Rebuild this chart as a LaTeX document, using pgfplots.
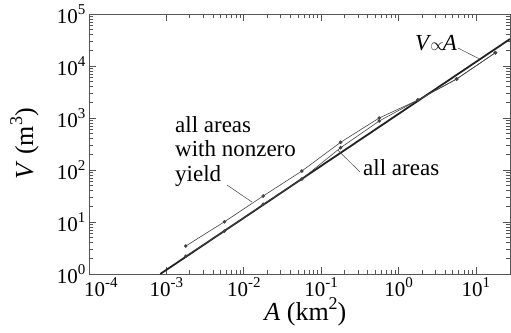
\documentclass[border=0pt]{standalone}
\usepackage{fontspec}
\setmainfont{Liberation Serif}
\usepackage{pgfplots}
\pgfplotsset{compat=1.18}
\definecolor{axisgray}{HTML}{555555}
\definecolor{linegray}{HTML}{444444}
\definecolor{thickline}{HTML}{222222}
\newcommand\sups[1]{\raisebox{0.42em}{\fontsize{15}{15}\selectfont #1}}
\newcommand\lsups[1]{\raisebox{0.42em}{\fontsize{18}{18}\selectfont #1}}
\begin{document}
\begin{tikzpicture}
\begin{axis}[
  name=ax,
  scale only axis,
  width=421pt, height=260pt,
  xmode=log, ymode=log,
  xmin=1e-4, xmax=27.5, ymin=1, ymax=1e5,
  xtick={1e-3,1e-2,1e-1,1,10},
  xticklabels={10\sups{-3},10\sups{-2},10\sups{-1},10\sups{0},10\sups{1}},
  extra x ticks={1e-4},
  extra x tick labels={10\sups{-4}},
  extra x tick style={xticklabel style={xshift=12pt}},
  ytick={1,10,100,1000,10000,100000},
  yticklabels={10\sups{0},10\sups{1},10\sups{2},10\sups{3},10\sups{4},10\sups{5}},
  tick label style={font=\fontsize{21}{24}\selectfont, text=black},
  axis line style={axisgray, line width=0.9pt},
  tick style={axisgray, line width=0.7pt},
  major tick length=7pt, minor tick length=4pt,
  clip mode=individual,
  xlabel={\textit{A} (km\lsups{2})},
  ylabel={\textit{V} (m\lsups{3})},
  xlabel style={font=\fontsize{26}{30}\selectfont, at={(axis description cs:0.514,-0.177)}, anchor=base, inner sep=0pt},
  ylabel style={font=\fontsize{26}{30}\selectfont, at={(axis description cs:-0.133,0.5)}, anchor=base, inner sep=0pt},
]
% V proportional to A
\addplot[thickline, line width=1.8pt, no marks] coordinates {(8.33e-4,1) (27.5,33000)};
% all areas
\addplot[linegray, line width=0.6pt, mark=*, mark size=1.5pt] coordinates {
(1.78e-3,2.2) (5.62e-3,6.7) (0.0178,21.9) (0.0562,67) (0.178,268) (0.562,875) (1.78,2220) (5.62,5620) (17.8,18000)};
% all areas with nonzero yield
\addplot[linegray, line width=0.6pt, mark=*, mark size=1.5pt] coordinates {
(1.78e-3,3.45) (5.62e-3,10.1) (0.0178,31.6) (0.0562,95.5) (0.178,341) (0.562,1000) (1.78,2220) (5.62,5620) (17.8,18000)};
% annotations
\node[anchor=base west, font=\fontsize{23}{26}\selectfont, inner sep=0pt] at (axis cs:1.29e-3,538) {all areas};
\node[anchor=base west, font=\fontsize{23}{26}\selectfont, inner sep=0pt] at (axis cs:1.29e-3,178) {with nonzero};
\node[anchor=base west, font=\fontsize{23}{26}\selectfont, inner sep=0pt] at (axis cs:1.29e-3,58.9) {yield};
\draw[linegray, line width=0.5pt] (axis cs:6.07e-3,51.5) -- (axis cs:0.01276,24.2);
\node[anchor=base west, font=\fontsize{23}{26}\selectfont, inner sep=0pt] at (axis cs:0.347,80) {all areas};
\draw[linegray, line width=0.5pt] (axis cs:0.317,91.4) -- (axis cs:0.165,240);
\node[anchor=base west, font=\fontsize{23}{26}\selectfont, inner sep=0pt] at (axis cs:1.63,20300) {\textit{V}\kern-1pt{\fontsize{16}{16}\selectfont$\propto$}\kern-1pt\textit{A}};
\draw[linegray, line width=0.5pt] (axis cs:5.85,22200) -- (axis cs:11.27,13500);
\end{axis}
\path ([shift={(-89pt,-58pt)}]ax.south west) rectangle ([shift={(1pt,14pt)}]ax.north east);
\end{tikzpicture}
\end{document}
